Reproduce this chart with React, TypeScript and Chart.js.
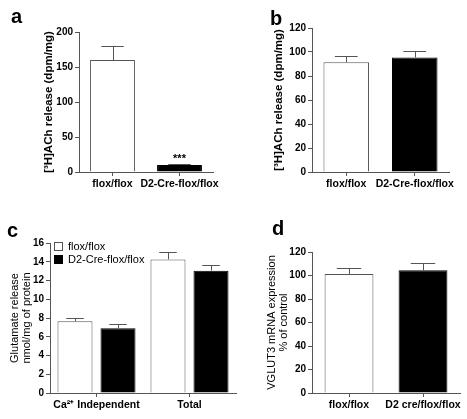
import React, { useEffect, useRef } from 'react';
import { Chart, registerables } from 'chart.js';

Chart.register(...registerables);

// ---------- data ----------
const labelsA = ['flox/flox', 'D2-Cre-flox/flox'];
const meanA = [160, 10];
const semA = [20, 1.5];

const labelsB = ['flox/flox', 'D2-Cre-flox/flox'];
const meanB = [91.5, 95.5];
const semB = [5, 5];

const labelsC = ['Ca²⁺ Independent', 'Total'];
const seriesC = ['flox/flox', 'D2-Cre-flox/flox'];
const floxC = [7.65, 14.25];
const floxSemC = [0.35, 0.75];
const d2C = [6.9, 13.05];
const d2SemC = [0.45, 0.6];

const labelsD = ['flox/flox', 'D2 cre/flox/flox'];
const meanD = [101.3, 104.4];
const semD = [5.4, 6.4];

const yTicksA = { min: 0, max: 200, step: 50 };
const yTicksB = { min: 0, max: 120, step: 20 };
const yTicksC = { min: 0, max: 16, step: 2 };
const yTicksD = { min: 0, max: 120, step: 20 };

// ---------- style ----------
const FONT = '"Liberation Sans", Arial, Helvetica, sans-serif';
const AXIS = '#555';
const WHITE = '#ffffff';
const BLACK = '#000000';

type PanelCfg = {
  left: number; top: number; w: number; h: number;
  padding: { left: number; right: number; top: number; bottom: number };
  yWidth: number; xHeight: number;
  labels: string[];
  datasets: any[];
  yRange: { min: number; max: number; step: number };
  yTitle: string | string[];
  yTitleBold: boolean; yTitleSize: number; yTitleLH: number;
  letter: { text: string; x: number; y: number };
  stars?: { ds: number; idx: number; text: string }[];
  legend?: boolean;
};

const errorBarPlugin = {
  id: 'errbars',
  afterDatasetsDraw(chart: any) {
    const ctx = chart.ctx;
    const yScale = chart.scales.y;
    chart.data.datasets.forEach((ds: any, i: number) => {
      const meta = chart.getDatasetMeta(i);
      meta.data.forEach((bar: any, j: number) => {
        const p = bar.getProps(['x', 'y', 'width'], true);
        const top = yScale.getPixelForValue(ds.data[j] + ds.errors[j]);
        const half = p.width / 4;
        ctx.save();
        ctx.strokeStyle = AXIS;
        ctx.lineWidth = 1;
        ctx.beginPath();
        const x = Math.round(p.x) + 0.5;
        ctx.moveTo(x, p.y);
        ctx.lineTo(x, Math.round(top) + 0.5);
        ctx.moveTo(p.x - half, Math.round(top) + 0.5);
        ctx.lineTo(p.x + half, Math.round(top) + 0.5);
        ctx.stroke();
        ctx.restore();
      });
    });
  },
};

function makeDecor(cfg: PanelCfg) {
  return {
    id: 'decor',
    afterDraw(chart: any) {
      const ctx = chart.ctx;
      ctx.save();
      ctx.fillStyle = '#000';
      ctx.font = `bold 20px ${FONT}`;
      ctx.textAlign = 'left';
      ctx.textBaseline = 'alphabetic';
      ctx.fillText(cfg.letter.text, cfg.letter.x, cfg.letter.y);

      if (cfg.stars) {
        const yScale = chart.scales.y;
        cfg.stars.forEach((s) => {
          const ds = chart.data.datasets[s.ds];
          const bar = chart.getDatasetMeta(s.ds).data[s.idx];
          const top = yScale.getPixelForValue(ds.data[s.idx] + ds.errors[s.idx]);
          ctx.font = `bold 11px ${FONT}`;
          ctx.textAlign = 'center';
          ctx.fillText(s.text, bar.x, top - 2);
        });
      }

      if (cfg.legend) {
        const { left, top } = chart.chartArea;
        chart.data.datasets.forEach((ds: any, i: number) => {
          const bx = left + 4;
          const by = top - 1 + i * 13;
          ctx.fillStyle = ds.backgroundColor;
          ctx.fillRect(bx, by, 9, 9);
          ctx.strokeStyle = ds.backgroundColor === WHITE ? AXIS : BLACK;
          ctx.lineWidth = 1;
          ctx.strokeRect(bx + 0.5, by + 0.5, 8, 8);
          ctx.fillStyle = '#000';
          ctx.font = `11px ${FONT}`;
          ctx.textAlign = 'left';
          ctx.textBaseline = 'middle';
          ctx.fillText(ds.label, bx + 14, by + 5);
        });
      }
      ctx.restore();
    },
  };
}

function Panel({ cfg }: { cfg: PanelCfg }) {
  const ref = useRef<HTMLCanvasElement | null>(null);
  useEffect(() => {
    if (!ref.current) return;
    const chart = new Chart(ref.current, {
      type: 'bar',
      data: { labels: cfg.labels, datasets: cfg.datasets },
      options: {
        responsive: false,
        animation: false,
        devicePixelRatio: 1,
        layout: { padding: cfg.padding },
        plugins: {
          legend: { display: false },
          tooltip: { enabled: false },
          title: { display: false },
        },
        scales: {
          x: {
            type: 'category',
            offset: true,
            grid: {
              display: true,
              drawOnChartArea: false,
              offset: false,
              tickLength: 4,
              color: AXIS,
              tickColor: AXIS,
            },
            border: { display: true, color: AXIS, width: 1 },
            ticks: {
              color: '#000',
              font: { family: FONT, size: 10.5, weight: 'bold' },
              padding: 2,
              maxRotation: 0,
              minRotation: 0,
              autoSkip: false,
            },
            afterFit: (s: any) => { s.height = cfg.xHeight; },
          },
          y: {
            min: cfg.yRange.min,
            max: cfg.yRange.max,
            ticks: {
              stepSize: cfg.yRange.step,
              color: '#000',
              font: { family: FONT, size: 10, weight: 'bold' },
              padding: 2,
            },
            grid: {
              display: true,
              drawOnChartArea: false,
              tickLength: 4,
              color: AXIS,
              tickColor: AXIS,
            },
            border: { display: true, color: AXIS, width: 1 },
            title: {
              display: true,
              text: cfg.yTitle,
              color: '#000',
              padding: 0,
              font: {
                family: FONT,
                size: cfg.yTitleSize,
                weight: cfg.yTitleBold ? 'bold' : 'normal',
                lineHeight: cfg.yTitleLH,
              },
            },
            afterFit: (s: any) => { s.width = cfg.yWidth; },
          },
        },
      } as any,
      plugins: [errorBarPlugin, makeDecor(cfg)],
    });
    return () => chart.destroy();
  }, []);
  return (
    <canvas
      ref={ref}
      width={cfg.w}
      height={cfg.h}
      style={{ position: 'absolute', left: cfg.left, top: cfg.top, width: cfg.w, height: cfg.h }}
    />
  );
}

const singleDs = (data: number[], errors: number[], barPct: number) => ({
  label: 'value',
  data,
  errors,
  backgroundColor: [WHITE, BLACK],
  borderColor: [AXIS, BLACK],
  borderWidth: 1,
  barPercentage: barPct,
  categoryPercentage: 1,
});

const panelA: PanelCfg = {
  left: 0, top: 0, w: 234, h: 210,
  padding: { left: 42, right: 21, top: 32, bottom: 8 },
  yWidth: 37, xHeight: 30,
  labels: labelsA,
  datasets: [singleDs(meanA, semA, 0.67)],
  yRange: yTicksA,
  yTitle: '[³H]ACh release (dpm/mg)',
  yTitleBold: true, yTitleSize: 11.5, yTitleLH: 1.2,
  letter: { text: 'a', x: 11, y: 23 },
  stars: [{ ds: 0, idx: 1, text: '***' }],
};

const panelB: PanelCfg = {
  left: 234, top: 0, w: 233, h: 210,
  padding: { left: 38, right: 18, top: 28, bottom: 8 },
  yWidth: 40, xHeight: 30,
  labels: labelsB,
  datasets: [singleDs(meanB, semB, 0.665)],
  yRange: yTicksB,
  yTitle: '[³H]ACh release (dpm/mg)',
  yTitleBold: true, yTitleSize: 11.5, yTitleLH: 1.2,
  letter: { text: 'b', x: 36, y: 25 },
};

const panelC: PanelCfg = {
  left: 0, top: 210, w: 240, h: 209,
  padding: { left: 9, right: 4, top: 33, bottom: 6 },
  yWidth: 41, xHeight: 20,
  labels: labelsC,
  datasets: [
    {
      label: seriesC[0], data: floxC, errors: floxSemC,
      backgroundColor: WHITE, borderColor: AXIS, borderWidth: 1,
      barPercentage: 0.814, categoryPercentage: 0.925,
    },
    {
      label: seriesC[1], data: d2C, errors: d2SemC,
      backgroundColor: BLACK, borderColor: BLACK, borderWidth: 1,
      barPercentage: 0.814, categoryPercentage: 0.925,
    },
  ],
  yRange: yTicksC,
  yTitle: ['Glutamate release', 'nmol/mg of protein'],
  yTitleBold: false, yTitleSize: 11, yTitleLH: 1.08,
  letter: { text: 'c', x: 7, y: 27 },
  legend: true,
};

const panelD: PanelCfg = {
  left: 234, top: 210, w: 233, h: 209,
  padding: { left: 32.5, right: 7, top: 42, bottom: 6 },
  yWidth: 45.5, xHeight: 20,
  labels: labelsD,
  datasets: [singleDs(meanD, semD, 0.66)],
  yRange: yTicksD,
  yTitle: ['VGLUT3 mRNA expression', '% of control'],
  yTitleBold: false, yTitleSize: 11, yTitleLH: 1.05,
  letter: { text: 'd', x: 38, y: 25 },
};

export default function App() {
  return (
    <div style={{ position: 'absolute', left: 0, top: 0, width: 467, height: 419, background: '#fff' }}>
      <Panel cfg={panelA} />
      <Panel cfg={panelB} />
      <Panel cfg={panelC} />
      <Panel cfg={panelD} />
    </div>
  );
}
